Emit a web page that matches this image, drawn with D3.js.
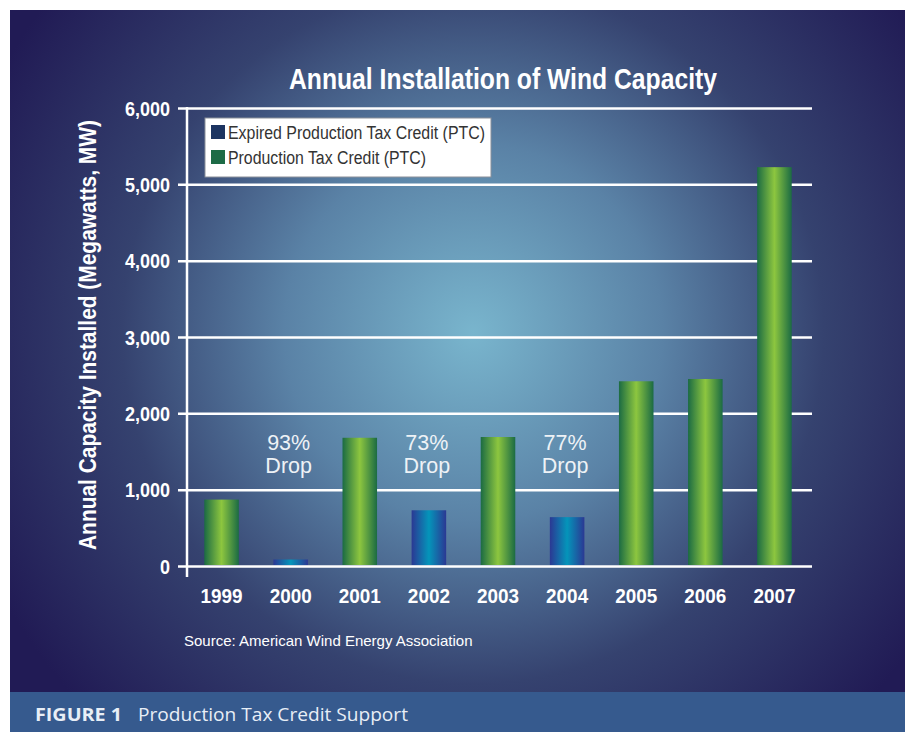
<!DOCTYPE html>
<html><head><meta charset="utf-8">
<script src="https://cdn.jsdelivr.net/npm/d3@7"></script>
<style>html,body{margin:0;padding:0;background:#fff;}svg{display:block;}</style>
</head><body>
<script>
const years = ["1999","2000","2001","2002","2003","2004","2005","2006","2007"];
const capacity = [870, 85, 1680, 730, 1690, 640, 2420, 2450, 5225];
const seriesType = ["ptc","exp","ptc","exp","ptc","exp","ptc","ptc","ptc"];
const yTicks = [0,1000,2000,3000,4000,5000,6000];
const legendLabels = ["Expired Production Tax Credit (PTC)","Production Tax Credit (PTC)"];
const dropYears = ["2000","2002","2004"];
const dropLabels = ["93%","73%","77%"];

const W=907,H=732;
const svg=d3.select("body").append("svg").attr("width",W).attr("height",H);
const defs=svg.append("defs");
const rg=defs.append("radialGradient").attr("id","bg").attr("gradientUnits","userSpaceOnUse")
 .attr("cx",473).attr("cy",333).attr("r",540);
rg.append("stop").attr("offset","0").attr("stop-color","#79b5cd");
rg.append("stop").attr("offset","0.35").attr("stop-color","#5a82a6");
rg.append("stop").attr("offset","0.65").attr("stop-color","#35426f");
rg.append("stop").attr("offset","1").attr("stop-color","#211b55");
const gg=defs.append("linearGradient").attr("id","gGreen").attr("x1","0").attr("x2","1").attr("y1","0").attr("y2","0");
gg.append("stop").attr("offset","0").attr("stop-color","#1b6b43");
gg.append("stop").attr("offset","0.5").attr("stop-color","#8dc63f");
gg.append("stop").attr("offset","1").attr("stop-color","#1b6b43");
const gb=defs.append("linearGradient").attr("id","gBlue").attr("x1","0").attr("x2","1").attr("y1","0").attr("y2","0");
gb.append("stop").attr("offset","0").attr("stop-color","#2b3893");
gb.append("stop").attr("offset","0.5").attr("stop-color","#0495ba");
gb.append("stop").attr("offset","1").attr("stop-color","#2b3893");

svg.append("rect").attr("x",10).attr("y",10).attr("width",895).attr("height",682).attr("fill","url(#bg)");
svg.append("rect").attr("x",10).attr("y",692).attr("width",895).attr("height",40).attr("fill","#365a8e");

const cond="'Liberation Sans',Arial,sans-serif";
function squeeze(sel, w){ sel.attr("textLength",w).attr("lengthAdjust","spacingAndGlyphs"); }

const x=d3.scaleBand().domain(years).range([187,809]).paddingInner(0.5).paddingOuter(0.25);
const y=d3.scaleLinear().domain([0,6000]).range([566,108]);

// gridlines + y axis
const yAxis=d3.axisLeft(y).tickValues(yTicks).tickFormat(d3.format(",")).tickSize(-(812-178)).tickPadding(0);
const ga=svg.append("g").attr("transform","translate(178,0)").call(yAxis);
ga.select(".domain").remove();
ga.selectAll(".tick line").attr("stroke","#fff").attr("stroke-width",2.5);
ga.selectAll(".tick text").attr("x",-8).attr("dy","0.36em").attr("fill","#fff")
  .attr("font-family",cond).attr("font-weight","bold").attr("font-size",20)
  .each(function(){ const t=d3.select(this); t.attr("textLength",this.getComputedTextLength()*0.9).attr("lengthAdjust","spacingAndGlyphs"); });
svg.append("line").attr("x1",187).attr("x2",187).attr("y1",107).attr("y2",577).attr("stroke","#fff").attr("stroke-width",2.5);

// bars
svg.append("g").selectAll("rect").data(years).join("rect")
 .attr("x",d=>x(d)).attr("width",x.bandwidth())
 .attr("y",(d,i)=>y(capacity[i])).attr("height",(d,i)=>y(0)-y(capacity[i])-1)
 .attr("fill",(d,i)=>seriesType[i]==="ptc"?"url(#gGreen)":"url(#gBlue)");

// x labels
const xAxis=d3.axisBottom(x).tickSize(0).tickPadding(0);
const gx=svg.append("g").attr("transform","translate(0,603)").call(xAxis);
gx.select(".domain").remove();
gx.selectAll("text").attr("dy",0).attr("fill","#fff").attr("font-family",cond)
 .attr("font-weight","bold").attr("font-size",21)
 .each(function(){ d3.select(this).attr("textLength",this.getComputedTextLength()*0.9).attr("lengthAdjust","spacingAndGlyphs"); });

// drops
const dg=svg.append("g").attr("fill","#eef2f6").attr("font-family","'Liberation Sans',Arial,sans-serif").attr("font-size",21.5).attr("text-anchor","middle");
dropYears.forEach((yr,i)=>{
  const cx=x(yr)+x.bandwidth()/2-2;
  dg.append("text").attr("x",cx).attr("y",450).text(dropLabels[i]);
  dg.append("text").attr("x",cx).attr("y",473).text("Drop");
});

// title
squeeze(svg.append("text").attr("x",503).attr("y",89).attr("text-anchor","middle").attr("fill","#fff")
 .attr("font-family",cond).attr("font-weight","bold").attr("font-size",30).text("Annual Installation of Wind Capacity"), 428);
// y label
squeeze(svg.append("text").attr("transform","translate(96,335) rotate(-90)").attr("text-anchor","middle").attr("fill","#fff")
 .attr("font-family",cond).attr("font-weight","bold").attr("font-size",23).text("Annual Capacity Installed (Megawatts, MW)"), 430);

// legend
const lg=svg.append("g");
lg.append("rect").attr("x",205).attr("y",118).attr("width",286).attr("height",59).attr("fill","#fff").attr("stroke","#8a8f99").attr("stroke-width",1);
const legColors=["#1c3461","#1d6b46"];
const legW=[257,198];
legendLabels.forEach((t,i)=>{
  lg.append("rect").attr("x",211).attr("y",125+i*25).attr("width",14).attr("height",14).attr("fill",legColors[i]);
  squeeze(lg.append("text").attr("x",228).attr("y",139+i*25).attr("fill","#333").attr("font-family",cond).attr("font-size",18).text(t), legW[i]);
});

// source
svg.append("text").attr("x",184).attr("y",646).attr("fill","#fff").attr("font-family","'Liberation Sans',Arial,sans-serif").attr("font-size",15).text("Source: American Wind Energy Association");

// footer
squeeze(svg.append("text").attr("x",35).attr("y",721).attr("fill","#e8eef6").attr("font-family","'Open Sans','Noto Sans',sans-serif")
 .attr("font-size",18).attr("font-weight","bold").text("FIGURE 1"), 87);
squeeze(svg.append("text").attr("x",138).attr("y",721).attr("fill","#e8eef6").attr("font-family","'Open Sans','Noto Sans',sans-serif")
 .attr("font-size",19).text("Production Tax Credit Support"), 270);
</script>
</body></html>
